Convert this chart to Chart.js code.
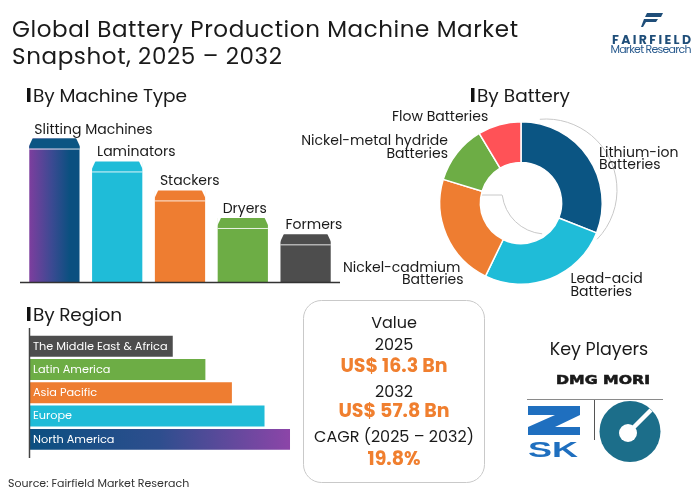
<!DOCTYPE html>
<html>
<head>
<meta charset="utf-8">
<script src="https://cdn.jsdelivr.net/npm/chart.js@4.4.1/dist/chart.umd.min.js"></script>
<style>
    html, body { margin: 0; padding: 0; background: #fff; }
    #page { position: relative; width: 700px; height: 491px; overflow: hidden; font-family: Poppins, "Open Sans", sans-serif; }
    canvas { position: absolute; }
    #overlay { position: absolute; left: 0; top: 0; pointer-events: none; }
    #overlay text { font-family: Poppins, "Open Sans", sans-serif; fill: #1a1a1a; }
</style>
</head>
<body>
<div id="page">
    <canvas id="machineChart" width="350" height="180" style="left:0;top:110px"></canvas>
    <canvas id="batteryChart" width="200" height="190" style="left:430px;top:110px"></canvas>
    <canvas id="regionChart" width="300" height="140" style="left:0;top:325px"></canvas>

    <svg id="overlay" width="700" height="491">
        <!-- title -->
        <text x="12" y="37" font-size="23" textLength="506">Global Battery Production Machine Market</text>
        <text x="12" y="64" font-size="23" textLength="270">Snapshot, 2025 – 2032</text>

        <!-- logo -->
        <path d="M647 13 L663 13 L661 17 L645 17 Z" fill="#1F4E79"/>
        <path d="M644 19 L658 19 L656 22 L646 22 L643 27 L641 27 Z" fill="#1F4E79"/>
        <text x="612" y="43.5" font-size="12.5" font-weight="bold" style="fill:#1F4E79" textLength="79">FAIRFIELD</text>
        <text x="610.5" y="53" font-size="11" style="fill:#2B5C8F" textLength="81">Market Research</text>

        <!-- section headers -->
        <rect x="27" y="88" width="3.5" height="14" fill="#111"/>
        <text x="33" y="102" font-size="18.5" textLength="154">By Machine Type</text>
        <rect x="471" y="88" width="3.5" height="14" fill="#111"/>
        <text x="477" y="102" font-size="18.5" textLength="93">By Battery</text>
        <rect x="27" y="307" width="3.5" height="14" fill="#111"/>
        <text x="33" y="321" font-size="18.5" textLength="89">By Region</text>

        <!-- donut callouts -->
        <text x="392" y="120.5" font-size="14">Flow Batteries</text>
        <text x="448" y="145" font-size="14" text-anchor="end">Nickel-metal hydride</text>
        <text x="448" y="157.5" font-size="14" text-anchor="end">Batteries</text>
        <text x="599" y="156.5" font-size="14">Lithium-ion</text>
        <text x="599" y="169" font-size="14">Batteries</text>
        <text x="343" y="271.5" font-size="14">Nickel-cadmium</text>
        <text x="402" y="284" font-size="14">Batteries</text>
        <text x="570.5" y="283" font-size="14">Lead-acid</text>
        <text x="570.5" y="295.5" font-size="14">Batteries</text>

        <!-- value box -->
        <rect x="303.5" y="300.5" width="181" height="182" rx="18" fill="none" stroke="#C9C9C9"/>
        <text x="394" y="328" font-size="16" text-anchor="middle">Value</text>
        <text x="394" y="349.5" font-size="16" text-anchor="middle">2025</text>
        <text x="394" y="372" font-size="19" font-weight="bold" text-anchor="middle" style="fill:#F07F2F">US$ 16.3 Bn</text>
        <text x="394" y="397" font-size="16" text-anchor="middle">2032</text>
        <text x="394" y="416.5" font-size="19" font-weight="bold" text-anchor="middle" style="fill:#F07F2F">US$ 57.8 Bn</text>
        <text x="394" y="442" font-size="16" text-anchor="middle">CAGR (2025 – 2032)</text>
        <text x="394" y="465" font-size="19" font-weight="bold" text-anchor="middle" style="fill:#F07F2F">19.8%</text>

        <!-- key players -->
        <text x="599" y="355" font-size="17.5" text-anchor="middle">Key Players</text>
        <text x="556" y="384" font-size="13" font-weight="bold" textLength="94" lengthAdjust="spacingAndGlyphs" style="font-family:'DejaVu Sans';fill:#1a1a1a;stroke:#1a1a1a;stroke-width:0.6">DMG MORI</text>
        <line x1="527" y1="399.5" x2="663" y2="399.5" stroke="#8a8a8a" stroke-width="1"/>
        <line x1="594.5" y1="400" x2="594.5" y2="440" stroke="#555" stroke-width="1"/>
        <path d="M528 406 L580 406 L580 415 L555 427 L580 427 L580 435 L528 435 L528 427 L555 415 L528 415 Z" fill="#1F6FBF"/>
        <text x="528" y="457" font-size="22" font-weight="bold" textLength="50" lengthAdjust="spacingAndGlyphs" style="font-family:'Liberation Sans';fill:#1F6FBF">SK</text>
        <circle cx="630" cy="431.5" r="30.5" fill="#1C6E8A"/>
        <line x1="628" y1="433" x2="651" y2="410" stroke="#fff" stroke-width="4.5"/>
        <circle cx="628" cy="433" r="9" fill="#fff"/>

        <!-- source -->
        <text x="8" y="486.5" font-size="11" style="fill:#333">Source: Fairfield Market Reserach</text>
    </svg>
</div>

<script>
// ---- data ----
const machineTypes = ['Slitting Machines', 'Laminators', 'Stackers', 'Dryers', 'Formers'];
const machineShare = [30.7, 25.8, 19.6, 13.7, 10.2];
const machineColors = ['#0B5583', '#1FBCD8', '#EE7D31', '#6DAD45', '#4D4D4D'];

const batteryTypes = ['Lithium-ion Batteries', 'Lead-acid Batteries', 'Nickel-cadmium Batteries', 'Nickel-metal hydride Batteries', 'Flow Batteries'];
const batteryShare = [31.0, 26.2, 22.5, 11.7, 8.6];
const batteryColors = ['#0B5583', '#1FBCD8', '#EE7D31', '#6DAD45', '#FF5257'];

const regions = ['The Middle East & Africa', 'Latin America', 'Asia Pacific', 'Europe', 'North America'];
const regionShare = [14.1, 17.3, 19.9, 23.1, 25.6];
const regionColors = ['#4D4D4D', '#6DAD45', '#EE7D31', '#1FBCD8', '#0B4F80'];

const FONT = 'Poppins, "Open Sans", sans-serif';
Chart.defaults.font.family = FONT;
Chart.defaults.animation = false;

const hiddenScale = { display: false, grid: { display: false } };
const noPlugins = { legend: { display: false }, tooltip: { enabled: false } };

// ---- By Machine Type ----
function machineFill(c) {
    if (c.type !== 'data') return machineColors[0];
    if (c.dataIndex !== 0) return machineColors[c.dataIndex];
    const xs = c.chart.scales.x;
    if (!xs || !xs.width) return machineColors[0];
    const cx = xs.getPixelForValue(0);
    const half = xs.width / machineTypes.length * 0.4;
    const g = c.chart.ctx.createLinearGradient(cx - half, 0, cx + half, 0);
    g.addColorStop(0, '#7D3E9E');
    g.addColorStop(0.45, '#3B4A92');
    g.addColorStop(0.8, '#0B5080');
    return g;
}

const machineDeco = {
    id: 'machineDeco',
    afterDatasetsDraw(chart) {
        const { ctx, chartArea } = chart;
        const meta = chart.getDatasetMeta(0);
        ctx.save();
        meta.data.forEach((bar, i) => {
            const left = bar.x - bar.width / 2;
            const right = bar.x + bar.width / 2;
            const top = bar.y;
            if (i === 0) {
                ctx.fillStyle = machineColors[0];
                ctx.fillRect(left, top, bar.width, 10);
            }
            // chamfered cap corners
            ctx.fillStyle = '#fff';
            ctx.beginPath();
            ctx.moveTo(left - 0.5, top - 0.5); ctx.lineTo(left + 3.5, top - 0.5); ctx.lineTo(left - 0.5, top + 8);
            ctx.closePath(); ctx.fill();
            ctx.beginPath();
            ctx.moveTo(right + 0.5, top - 0.5); ctx.lineTo(right - 3.5, top - 0.5); ctx.lineTo(right + 0.5, top + 8);
            ctx.closePath(); ctx.fill();
            ctx.strokeStyle = 'rgba(255,255,255,0.85)';
            ctx.lineWidth = 1;
            ctx.beginPath(); ctx.moveTo(left, top + 10.5); ctx.lineTo(right, top + 10.5); ctx.stroke();
            // category label
            ctx.fillStyle = '#1a1a1a';
            ctx.font = '14px ' + FONT;
            ctx.textBaseline = 'alphabetic';
            ctx.fillText(machineTypes[i], left + 5, top - 5);
        });
        ctx.strokeStyle = '#333';
        ctx.lineWidth = 1.5;
        ctx.beginPath(); ctx.moveTo(20, chartArea.bottom + 0.5); ctx.lineTo(340, chartArea.bottom + 0.5); ctx.stroke();
        ctx.restore();
    }
};

new Chart(document.getElementById('machineChart'), {
    type: 'bar',
    data: { labels: machineTypes, datasets: [{ data: machineShare, backgroundColor: machineFill, borderWidth: 0, categoryPercentage: 1, barPercentage: 0.8 }] },
    options: {
        responsive: false,
        layout: { padding: { left: 23, right: 13, top: 22, bottom: 8 } },
        plugins: noPlugins,
        scales: { x: hiddenScale, y: { ...hiddenScale, min: 0, max: 32.1 } }
    },
    plugins: [machineDeco]
});

// ---- By Battery ----
const donutDeco = {
    id: 'donutDeco',
    beforeDatasetsDraw(chart) {
        const { ctx } = chart;
        const arc = chart.getDatasetMeta(0).data[0];
        const cx = arc.x + 25, cy = arc.y - 13;
        ctx.save();
        ctx.strokeStyle = '#C8C8C8';
        ctx.lineWidth = 1;
        ctx.beginPath();
        ctx.arc(cx, cy, 71, -95 * Math.PI / 180, 44 * Math.PI / 180);
        ctx.stroke();
        ctx.beginPath();
        ctx.moveTo(arc.x - 41, cy + 5);
        ctx.lineTo(cx - 44, cy + 5);
        ctx.arc(cx, cy, 44, 173 * Math.PI / 180, 95 * Math.PI / 180, true);
        ctx.stroke();
        ctx.restore();
    }
};

new Chart(document.getElementById('batteryChart'), {
    type: 'doughnut',
    data: { labels: batteryTypes, datasets: [{ data: batteryShare, backgroundColor: batteryColors, borderColor: '#fff', borderWidth: 1.5 }] },
    options: {
        responsive: false,
        cutout: '50%',
        layout: { padding: { left: 9, right: 27, top: 11, bottom: 15 } },
        plugins: noPlugins
    },
    plugins: [donutDeco]
});

// ---- By Region ----
function regionFill(c) {
    if (c.type !== 'data') return regionColors[0];
    if (c.dataIndex !== regions.length - 1) return regionColors[c.dataIndex];
    const xs = c.chart.scales.x;
    if (!xs || !xs.width) return regionColors[c.dataIndex];
    const x0 = xs.getPixelForValue(0);
    const x1 = xs.getPixelForValue(regionShare[c.dataIndex]);
    const g = c.chart.ctx.createLinearGradient(x0, 0, x1, 0);
    g.addColorStop(0, '#0B4F80');
    g.addColorStop(0.5, '#2E4E8E');
    g.addColorStop(1, '#8C45A8');
    return g;
}

const regionDeco = {
    id: 'regionDeco',
    afterDatasetsDraw(chart) {
        const { ctx, chartArea } = chart;
        const meta = chart.getDatasetMeta(0);
        ctx.save();
        ctx.fillStyle = '#fff';
        ctx.font = '11.3px ' + FONT;
        ctx.textBaseline = 'middle';
        meta.data.forEach((bar, i) => ctx.fillText(regions[i], chartArea.left + 4, bar.y + 0.5));
        ctx.strokeStyle = '#444';
        ctx.lineWidth = 1.5;
        ctx.beginPath(); ctx.moveTo(chartArea.left + 0.5, 3); ctx.lineTo(chartArea.left + 0.5, 133); ctx.stroke();
        ctx.restore();
    }
};

new Chart(document.getElementById('regionChart'), {
    type: 'bar',
    data: { labels: regions, datasets: [{ data: regionShare, backgroundColor: regionFill, borderWidth: 0, categoryPercentage: 1, barPercentage: 0.9 }] },
    options: {
        responsive: false,
        indexAxis: 'y',
        layout: { padding: { left: 29, right: 0, top: 9.6, bottom: 14 } },
        plugins: noPlugins,
        scales: { x: { ...hiddenScale, min: 0, max: 26.58 }, y: hiddenScale }
    },
    plugins: [regionDeco]
});
</script>
</body>
</html>
